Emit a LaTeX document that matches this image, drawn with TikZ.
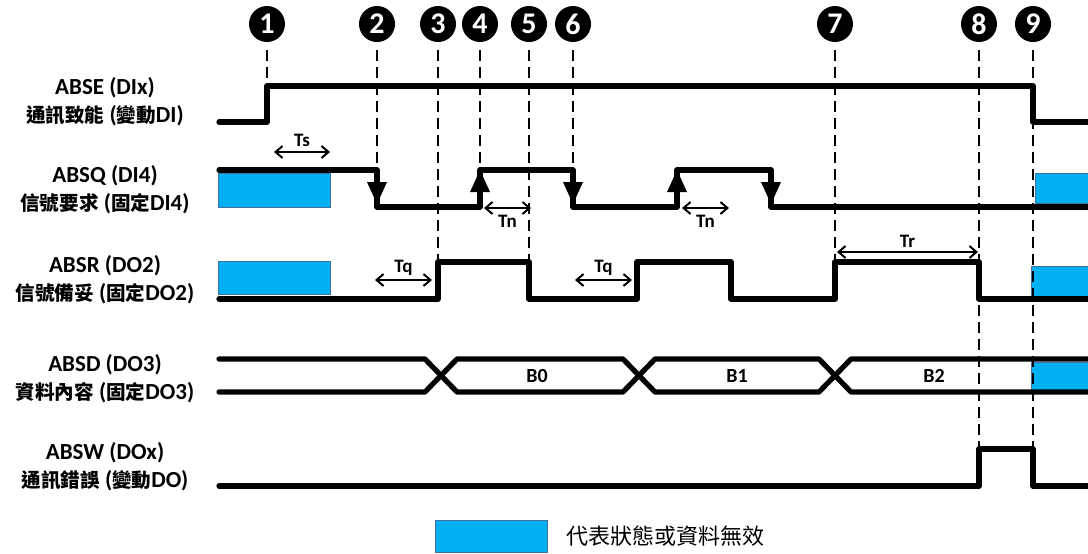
\documentclass[tikz,border=0pt]{standalone}
\usepackage{fontspec}
\setmainfont{Carlito}
\newfontfamily\cjk[Scale=0.85]{Noto Sans CJK TC}
\newfontfamily\cjklegend{Noto Sans CJK TC}
\newcommand{\zh}[1]{{\cjk #1}}
\definecolor{invblue}{RGB}{0,176,240}
\definecolor{invedge}{RGB}{65,113,156}
\usetikzlibrary{arrows.meta,positioning}

\begin{document}
\begin{tikzpicture}[x=0.5pt,y=-0.5pt,
  sig/.style={line width=2.6pt, line cap=round, line join=round},
  evline/.style={line width=1.1pt, dash pattern=on 5.5pt off 3pt},
  evnum/.style={circle, fill=black, text=white, minimum size=18pt, inner sep=0pt, font=\fontsize{15}{15}\selectfont\bfseries},
  invalid/.style={fill=invblue, draw=invedge, line width=0.4pt},
  siglabel/.style={align=center, font=\fontsize{11.5}{14}\selectfont\bfseries},
  span/.style={{Straight Barb[length=3.5pt,width=6pt]}-{Straight Barb[length=3.5pt,width=6pt]}, line width=1pt},
  spanlabel/.style={font=\fontsize{9.5}{10}\selectfont\bfseries, inner sep=0pt},
  datalabel/.style={font=\fontsize{10}{10}\selectfont\bfseries}]
  \useasboundingbox (0,0) rectangle (1088,553);

  \draw[invalid] (218,173) rectangle (330,207);
  \draw[invalid] (218,261) rectangle (330,294);
  \draw[invalid] (1035,173) rectangle (1092,203);
  \draw[invalid] (1031,266) rectangle (1092,296);
  \draw[invalid] (1031,362) rectangle (1092,390);

  \foreach \x/\y [count=\n] in {267/86, 377/170, 438/262, 480/170, 529/262, 573/170, 835/262, 979/449, 1033/449} {
    \node[evnum] (n\n) at (\x,24) {\n};
    \draw[evline, shorten <=4pt] (n\n) -- (\x,\y);
  }

  \draw[sig] (219,122) -- (267,122) -- (267,86) -- (1033,86) -- (1033,122) -- (1092,122);
  \draw[sig] (219,170) -- (377,170) -- (377,207) -- (480,207) -- (480,170) -- (573,170) -- (573,207) -- (677,207) -- (677,170) -- (771,170) -- (771,207) -- (1092,207);
  \draw[sig] (219,299) -- (438,299) -- (438,262) -- (529,262) -- (529,299) -- (637,299) -- (637,262) -- (731,262) -- (731,299) -- (835,299) -- (835,262) -- (979,262) -- (979,299) -- (1092,299);
  \draw[sig] (219,359) -- (425,359) -- (457,392) -- (623,392) -- (655,359) -- (819,359) -- (851,392) -- (1092,392);
  \draw[sig] (219,392) -- (425,392) -- (457,359) -- (623,359) -- (655,392) -- (819,392) -- (851,359) -- (1092,359);
  \draw[sig] (219,486) -- (979,486) -- (979,449) -- (1033,449) -- (1033,486) -- (1092,486);

  \foreach \x in {377,573,771} \fill (\x-10,182) -- (\x+10,182) -- (\x,204) -- cycle;
  \foreach \x in {480,677} \fill (\x-10,192) -- (\x+10,192) -- (\x,170) -- cycle;

  \draw[span] (274,152) -- node[above=2pt, spanlabel] (ts) {Ts} (330,152);
  \draw[span] (484,208) -- node[below=3pt, spanlabel] (tn1) {Tn} (531,208);
  \draw[span] (682,208) -- node[below=3pt, spanlabel] (tn2) {Tn} (729,208);
  \draw[span] (375,280) -- node[above=2pt, spanlabel] (tq1) {Tq} (432,280);
  \draw[span] (575,280) -- node[above=2pt, spanlabel] (tq2) {Tq} (632,280);
  \draw[span] (837,252) -- node[above=2pt, spanlabel] (tr) {Tr} (978,252);

  \node[datalabel] (b0) at (537,376) {B0};
  \node[datalabel] (b1) at (737,376) {B1};
  \node[datalabel] (b2) at (934,376) {B2};

  \node[siglabel] (lse) at (105,102) {ABSE (DIx)\\\zh{通訊致能} (\zh{變動}DI)};
  \node[siglabel] (lsq) at (105,190) {ABSQ (DI4)\\\zh{信號要求} (\zh{固定}DI4)};
  \node[siglabel] (lsr) at (105,280) {ABSR (DO2)\\\zh{信號備妥} (\zh{固定}DO2)};
  \node[siglabel] (lsd) at (105,379) {ABSD (DO3)\\\zh{資料內容} (\zh{固定}DO3)};
  \node[siglabel] (lsw) at (105,467) {ABSW (DOx)\\\zh{通訊錯誤} (\zh{變動}DO)};

  \node[invalid, minimum width=56pt, minimum height=16pt, inner sep=0pt] (legbox) at (491,536) {};
  \node[right=6pt of legbox, font=\cjklegend\fontsize{11}{11}\selectfont] (legtext) {代表狀態或資料無效};
\end{tikzpicture}
\end{document}
